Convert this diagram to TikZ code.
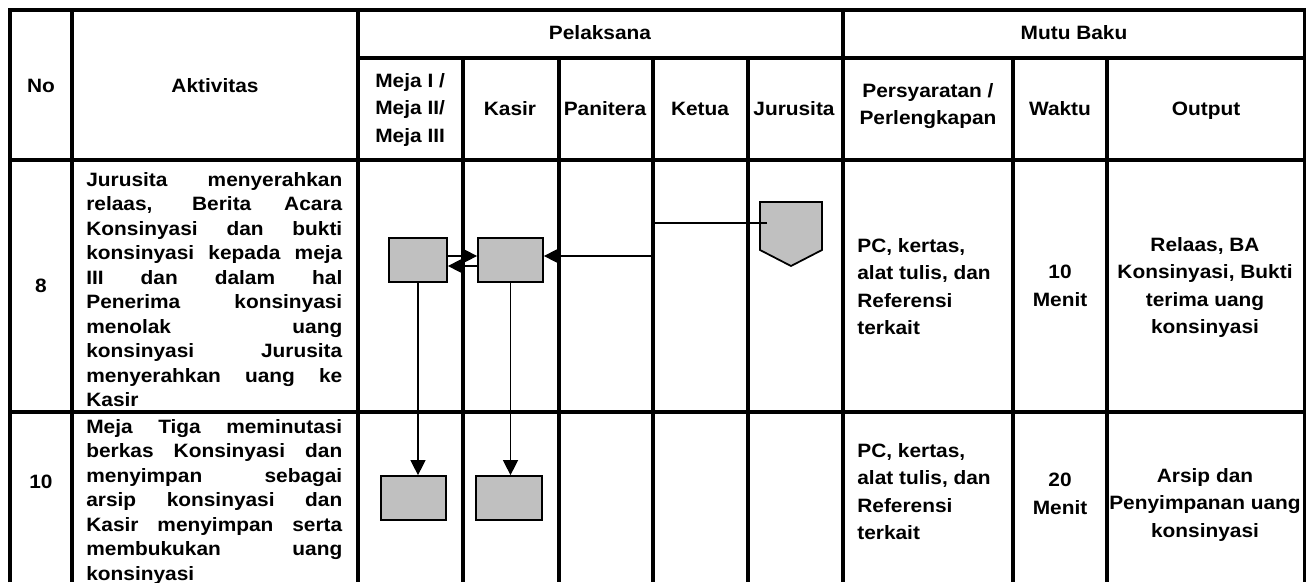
\documentclass[tikz,border=0pt]{standalone}
\usepackage{fontspec}
\setmainfont{Liberation Sans}[FakeStretch=1.08]
\usetikzlibrary{arrows.meta,calc}
\definecolor{boxgray}{RGB}{192,192,192}

\newcommand{\fullline}[1]{\makebox[5.12cm][s]{#1}}

\begin{document}
\begin{tikzpicture}[x=0.02cm, y=-0.02cm,
    grid/.style={line width=2.2pt},
    cell/.style={font=\fontsize{11}{15.6}\selectfont\bfseries, inner sep=0pt},
    act/.style={font=\fontsize{11}{13.95}\selectfont\bfseries, inner sep=0pt, align=left, anchor=north west},
    proc/.style={draw, line width=1pt, fill=boxgray, inner sep=0pt, minimum height=0.88cm},
    flow/.style={line width=0.8pt, -{Triangle[length=8.5pt,width=8.5pt]}}]
\useasboundingbox (0,0) rectangle (1306,582);

% table lines
\draw[grid] (10,582) -- (10,10) -- (1305,10) -- (1305,582);
\foreach \x in {72, 358, 843} {%
    \draw[grid] (\x,10) -- (\x,582);
}
\foreach \x in {463, 559, 653, 748, 1013, 1107} {%
    \draw[grid] (\x,58) -- (\x,582);
}
\draw[grid] (358,58) -- (1305,58);
\foreach \y in {160, 412} {%
    \draw[grid] (10,\y) -- (1305,\y);
}

% header
\node[cell, anchor=base] (hno) at (41,92) {No};
\node[cell, anchor=base] (hakt) at (215,92) {Aktivitas};
\node[cell, anchor=base] (hpel) at (600,39) {Pelaksana};
\node[cell, anchor=base] (hmutu) at (1074,39) {Mutu Baku};
\node[cell, anchor=north west, align=left] (hmeja) at (375,73) {Meja I /\\Meja II/\\Meja III};
\node[cell, anchor=base] (hkasir) at (510,115) {Kasir};
\node[cell, anchor=base] (hpan) at (605,115) {Panitera};
\node[cell, anchor=base] (hket) at (700,115) {Ketua};
\node[cell, anchor=base] (hjur) at (794,115) {Jurusita};
\node[cell, anchor=north, align=center] (hsyarat) at (928,83) {Persyaratan /\\Perlengkapan};
\node[cell, anchor=base] (hwaktu) at (1060,115) {Waktu};
\node[cell, anchor=base] (hout) at (1206,115) {Output};

% row 8
\node[cell, anchor=base] (n8) at (41,292) {8};
\node[act] (a8) at (86,172) {\fullline{Jurusita menyerahkan}\\
    \fullline{relaas, Berita Acara}\\
    \fullline{Konsinyasi dan bukti}\\
    \fullline{konsinyasi kepada meja}\\
    \fullline{III dan dalam hal}\\
    \fullline{Penerima konsinyasi}\\
    \fullline{menolak uang}\\
    \fullline{konsinyasi Jurusita}\\
    \fullline{menyerahkan uang ke}\\
    Kasir};
\node[cell, anchor=north west, align=left] (s8) at (857,238) {PC, kertas,\\alat tulis, dan\\Referensi\\terkait};
\node[cell, anchor=north, align=center] (w8) at (1060,265) {10\\Menit};
\node[cell, anchor=north, align=center] (o8) at (1205,237) {Relaas, BA\\Konsinyasi, Bukti\\terima uang\\konsinyasi};

% row 10
\node[cell, anchor=base] (n10) at (41,488) {10};
\node[act] (a10) at (86,419) {\fullline{Meja Tiga meminutasi}\\
    \fullline{berkas Konsinyasi dan}\\
    \fullline{menyimpan sebagai}\\
    \fullline{arsip konsinyasi dan}\\
    \fullline{Kasir menyimpan serta}\\
    \fullline{membukukan uang}\\
    konsinyasi};
\node[cell, anchor=north west, align=left] (s10) at (857,443) {PC, kertas,\\alat tulis, dan\\Referensi\\terkait};
\node[cell, anchor=north, align=center] (w10) at (1060,473) {20\\Menit};
\node[cell, anchor=north, align=center] (o10) at (1205,468) {Arsip dan\\Penyimpanan uang\\konsinyasi};

% flow
\node[proc, minimum width=1.16cm] (m1) at (418,260) {};
\node[proc, minimum width=1.3cm] (k1) at (510.5,260) {};
\node[proc, minimum width=1.3cm] (m2) at (413.5,498) {};
\node[proc, minimum width=1.32cm] (k2) at (509,498) {};
\draw[line width=1pt, fill=boxgray] (760,202) -- (822,202) -- (822,250) -- (791,266) -- (760,250) -- cycle;
\coordinate (j1) at (767,223);

\draw[flow] (j1) -- ++(-114,0) |- ($(k1.east)+(0,-4)$);
\draw[flow] ($(m1.east)+(0,-4)$) -- ($(k1.west)+(0,-4)$);
\draw[flow] ($(k1.west)+(0,6)$) -- ($(m1.east)+(0,6)$);
\draw[flow] (m1.south) -- (m1.south |- m2.north);
\draw[flow] (k1.south) -- (k1.south |- k2.north);
\end{tikzpicture}
\end{document}
